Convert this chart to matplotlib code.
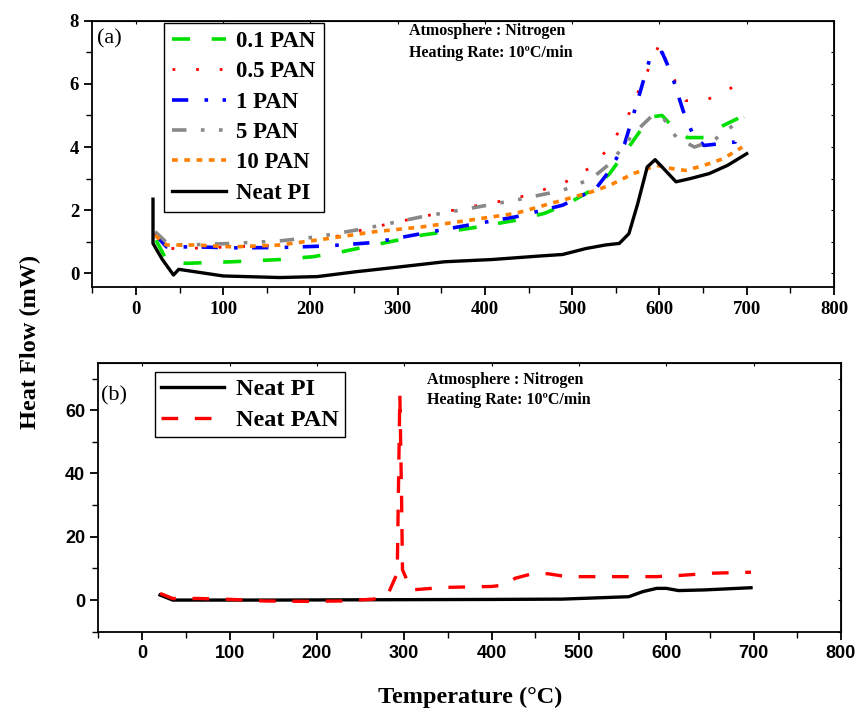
import matplotlib
matplotlib.use('Agg')
import matplotlib.pyplot as plt
from matplotlib.ticker import MultipleLocator

plt.rcParams['font.family'] = 'Liberation Serif'
plt.rcParams['font.weight'] = 'bold'

# ---- panel (a) data: temperature (C) / heat flow (mW)
t_pi = [19.5, 19.5, 30, 43, 49, 100, 165, 208, 251, 300, 354, 408, 462, 489, 516, 538, 554, 565, 575, 586, 595, 603, 619, 635, 657, 678, 700]
v_pi = [2.35, 0.95, 0.45, -0.05, 0.13, -0.08, -0.13, -0.1, 0.05, 0.2, 0.37, 0.44, 0.55, 0.6, 0.79, 0.9, 0.95, 1.26, 2.2, 3.37, 3.6, 3.37, 2.9, 3.0, 3.16, 3.42, 3.79]

t_01 = [23, 35, 57, 111, 165, 203, 235, 273, 327, 381, 435, 468, 495, 522, 543, 570, 589, 603, 619, 632, 651, 673, 697]
v_01 = [1.05, 0.42, 0.32, 0.37, 0.44, 0.53, 0.68, 0.9, 1.21, 1.42, 1.68, 1.9, 2.21, 2.63, 3.16, 4.2, 4.95, 5.0, 4.53, 4.3, 4.3, 4.68, 5.0]

t_05 = [22, 35, 57, 111, 165, 219, 273, 327, 381, 435, 489, 522, 543, 565, 581, 595, 600, 608, 622, 630, 651, 673, 689]
v_05 = [1.26, 0.79, 0.79, 0.84, 0.9, 1.1, 1.47, 1.79, 2.1, 2.37, 2.84, 3.37, 4.0, 5.05, 6.1, 6.9, 7.3, 6.7, 5.84, 5.47, 5.47, 5.7, 6.0]

t_1 = [23, 35, 68, 111, 165, 219, 273, 327, 381, 435, 489, 527, 543, 560, 575, 589, 603, 614, 627, 638, 651, 687, 689]
v_1 = [1.2, 0.84, 0.84, 0.81, 0.82, 0.87, 0.98, 1.26, 1.53, 1.79, 2.16, 2.68, 3.26, 4.1, 5.47, 6.8, 7.0, 6.3, 5.16, 4.42, 4.05, 4.16, 4.3]

t_5 = [22, 38, 57, 111, 165, 208, 262, 327, 381, 435, 489, 522, 543, 570, 592, 605, 619, 640, 662, 697]
v_5 = [1.32, 0.9, 0.9, 0.95, 1.03, 1.16, 1.42, 1.79, 2.05, 2.32, 2.63, 3.0, 3.47, 4.42, 5.0, 4.9, 4.32, 4.0, 4.21, 4.95]

t_10 = [22, 35, 68, 111, 165, 219, 273, 327, 381, 435, 489, 522, 543, 570, 597, 614, 630, 651, 673, 695]
v_10 = [1.2, 0.9, 0.9, 0.84, 0.9, 1.1, 1.32, 1.47, 1.68, 1.9, 2.32, 2.58, 2.79, 3.16, 3.42, 3.32, 3.26, 3.42, 3.63, 4.0]

# ---- panel (b) data
tb_pi = [20.5, 35, 49, 150, 265, 400, 481, 557, 573, 589, 600, 614, 643, 697]
vb_pi = [1.6, 0.0, 0.0, 0.0, 0.1, 0.2, 0.3, 1.06, 2.66, 3.7, 3.7, 3.0, 3.2, 3.9]

tb_pan = [20.5, 35, 65, 103, 141, 184, 227, 265, 281, 292, 295, 297, 298, 308, 346, 400, 416, 427, 449, 465, 486, 519, 562, 589, 616, 654, 697]
vb_pan = [2.1, 0.5, 0.5, 0.2, -0.3, -0.4, -0.3, 0.3, 1.6, 8.5, 65, 32, 9.6, 3.2, 4.0, 4.3, 4.8, 6.9, 8.5, 8.3, 7.4, 7.4, 7.4, 7.4, 7.8, 8.5, 8.8]

fig = plt.figure(figsize=(8.6, 7.13), dpi=100)
ax1 = fig.add_axes([0.1074, 0.597, 0.8623, 0.374])
ax2 = fig.add_axes([0.1145, 0.114, 0.8634, 0.3773])

ax1.plot(t_01, v_01, color='#00e000', lw=2.6, dashes=(5, 6), label='0.1 PAN')
ax1.plot(t_05, v_05, color='red', lw=2.0, dashes=(1, 7.5), label='0.5 PAN')
ax1.plot(t_1, v_1, color='blue', lw=2.6, dashes=(4.5, 4.5, 1, 4), label='1 PAN')
ax1.plot(t_5, v_5, color='#888888', lw=2.6, dashes=(4, 4, 1, 4, 1, 4), label='5 PAN')
ax1.plot(t_10, v_10, color='#ff8000', lw=2.6, dashes=(1.6, 1.8), label='10 PAN')
ax1.plot(t_pi, v_pi, color='black', lw=2.4, label='Neat PI')

ax2.plot(tb_pi, vb_pi, color='black', lw=2.4, label='Neat PI')
ax2.plot(tb_pan, vb_pan, color='red', lw=2.4, dashes=(5, 5), label='Neat PAN')

ax1.set_xlim(-50, 800)
ax1.set_ylim(-0.44, 8)
ax2.set_xlim(-50, 800)
ax2.set_ylim(-10, 75)

ax1.xaxis.set_major_locator(MultipleLocator(100))
ax1.xaxis.set_minor_locator(MultipleLocator(50))
ax1.yaxis.set_major_locator(MultipleLocator(2))
ax1.yaxis.set_minor_locator(MultipleLocator(1))
ax2.xaxis.set_major_locator(MultipleLocator(100))
ax2.xaxis.set_minor_locator(MultipleLocator(50))
ax2.yaxis.set_major_locator(MultipleLocator(20))
ax2.yaxis.set_minor_locator(MultipleLocator(10))

for ax in (ax1, ax2):
    for s in ax.spines.values():
        s.set_linewidth(1.3)
    ax.tick_params(which='major', direction='out', length=6, width=1.3)
    ax.tick_params(which='minor', direction='out', length=4, width=1.0)
    ax.tick_params(which='both', top=False, right=False)
    ax.secondary_xaxis('top').tick_params(which='both', direction='in', length=2, labeltop=False)
    ax.secondary_yaxis('right').tick_params(which='both', direction='in', length=2, labelright=False)

for lab in ax1.get_xticklabels() + ax1.get_yticklabels():
    lab.set_fontfamily('Liberation Serif')
    lab.set_fontweight('bold')
    lab.set_fontsize(13.5)
for lab in ax2.get_xticklabels() + ax2.get_yticklabels():
    lab.set_fontfamily('Liberation Sans')
    lab.set_fontweight('bold')
    lab.set_fontsize(13)

leg_font = {'family': 'Liberation Serif', 'weight': 'bold', 'size': 16.5}
leg1 = ax1.legend(loc='upper left', bbox_to_anchor=(0.0965, 0.9925), borderaxespad=0, frameon=True,
                  fancybox=False, edgecolor='black', framealpha=1, handlelength=2.35, handletextpad=0.45,
                  labelspacing=0.41, borderpad=0.35, prop=leg_font)
leg1.get_frame().set_linewidth(1.0)
leg2 = ax2.legend(loc='upper left', bbox_to_anchor=(0.076, 0.965), borderaxespad=0, frameon=True,
                  fancybox=False, edgecolor='black', framealpha=1, handlelength=2.6, handletextpad=0.5,
                  labelspacing=0.37, borderpad=0.25, prop={'family': 'Liberation Serif', 'weight': 'bold', 'size': 17.5})
leg2.get_frame().set_linewidth(1.0)

ax1.text(0.006, 0.915, '(a)', transform=ax1.transAxes, fontsize=16, fontweight='normal')
ax2.text(0.003, 0.86, '(b)', transform=ax2.transAxes, fontsize=16, fontweight='normal')

ax1.text(0.427, 0.945, 'Atmosphere : Nitrogen', transform=ax1.transAxes, fontsize=11.5, fontweight='bold')
ax1.text(0.427, 0.865, 'Heating Rate: 10ºC/min', transform=ax1.transAxes, fontsize=11.5, fontweight='bold')
ax2.text(0.442, 0.92, 'Atmosphere : Nitrogen', transform=ax2.transAxes, fontsize=11.5, fontweight='bold')
ax2.text(0.442, 0.845, 'Heating Rate: 10ºC/min', transform=ax2.transAxes, fontsize=11.5, fontweight='bold')

fig.text(0.035, 0.52, 'Heat Flow (mW)', rotation=90, ha='center', va='center', fontsize=17.5, fontweight='bold')
fig.text(0.547, 0.022, 'Temperature (°C)', ha='center', va='center', fontsize=17.5, fontweight='bold')

fig.savefig('out.png', dpi=100)
